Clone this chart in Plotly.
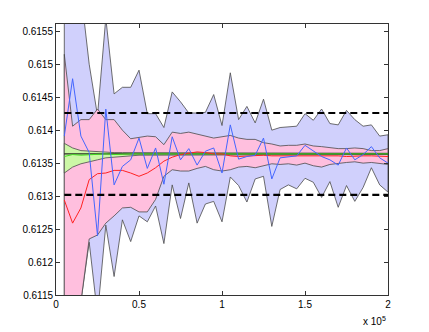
import plotly.graph_objects as go

# sample sizes (x axis)
n_samples = list(range(5000, 200001, 5000))

# outer (blue) band
blue_upper = [0.6165, 0.6170, 0.6161, 0.6150, 0.61422, 0.6157, 0.61455, 0.61465, 0.61465, 0.61491,
              0.61425, 0.61425, 0.61404, 0.61458, 0.61443, 0.61426, 0.61426, 0.61427, 0.61454, 0.61407,
              0.61487, 0.61416, 0.61436, 0.61411, 0.61447, 0.61400, 0.61404, 0.61405, 0.61406, 0.61425,
              0.61415, 0.61432, 0.61410, 0.61408, 0.61430, 0.61416, 0.61406, 0.61408, 0.61391, 0.61393]
blue_lower = [0.6095, 0.6100, 0.6114, 0.61230, 0.6112, 0.61256, 0.61178, 0.61264, 0.61231, 0.61270,
              0.61261, 0.61285, 0.61228, 0.61317, 0.61266, 0.61320, 0.61259, 0.61288, 0.61292, 0.61261,
              0.61329, 0.61316, 0.61291, 0.61326, 0.61330, 0.61254, 0.61310, 0.61317, 0.61311, 0.61327,
              0.61321, 0.61298, 0.61322, 0.61283, 0.61316, 0.61292, 0.61313, 0.61343, 0.61317, 0.61306]

# middle (pink) band
pink_upper = [0.61515, 0.61406, 0.61416, 0.61416, 0.61432, 0.61416, 0.61416, 0.61400, 0.61387, 0.61389,
              0.61391, 0.61390, 0.61378, 0.61397, 0.61395, 0.61397, 0.61394, 0.61391, 0.61388, 0.61390,
              0.61392, 0.61388, 0.61386, 0.61386, 0.61381, 0.61379, 0.61376, 0.61377, 0.61377, 0.61379,
              0.61376, 0.61375, 0.61373, 0.61372, 0.61372, 0.61373, 0.61372, 0.61369, 0.61369, 0.61372]
pink_lower = [0.6105, 0.6108, 0.6114, 0.61235, 0.61241, 0.61259, 0.61270, 0.61282, 0.61283, 0.61276,
              0.61276, 0.61295, 0.61330, 0.61340, 0.61338, 0.61338, 0.61342, 0.61345, 0.61340, 0.61338,
              0.61340, 0.61344, 0.61345, 0.61343, 0.61346, 0.61349, 0.61348, 0.61349, 0.61347, 0.61350,
              0.61346, 0.61344, 0.61348, 0.61349, 0.61351, 0.61352, 0.61350, 0.61351, 0.61349, 0.61348]

# inner (green) band
green_upper = [0.61380, 0.61373, 0.61369, 0.61368, 0.61367, 0.61366, 0.61366, 0.61366, 0.61366, 0.61366,
               0.61366, 0.61366, 0.61366, 0.61366, 0.61366, 0.61366, 0.61366, 0.61366, 0.61366, 0.61366,
               0.61366, 0.61366, 0.61366, 0.61366, 0.61366, 0.61366, 0.61366, 0.61366, 0.61366, 0.61366,
               0.61366, 0.61366, 0.61365, 0.61365, 0.61365, 0.61365, 0.61365, 0.61365, 0.61365, 0.61365]
green_lower = [0.61335, 0.61344, 0.61349, 0.61352, 0.61355, 0.61358, 0.61359, 0.61360, 0.61361, 0.61362,
               0.61362, 0.61362, 0.61362, 0.61362, 0.61362, 0.61362, 0.61362, 0.61362, 0.61362, 0.61362,
               0.61362, 0.61362, 0.61362, 0.61362, 0.61362, 0.61362, 0.61363, 0.61363, 0.61363, 0.61363,
               0.61363, 0.61363, 0.61363, 0.61363, 0.61363, 0.61363, 0.61363, 0.61363, 0.61363, 0.61363]

# estimate curves
red_line = [0.61294, 0.61259, 0.61282, 0.61325, 0.61334, 0.61335, 0.61339, 0.61339, 0.61335, 0.61330,
            0.61335, 0.61343, 0.61353, 0.61359, 0.61363, 0.61365, 0.61367, 0.61366, 0.61364, 0.61364,
            0.61361, 0.61360, 0.61361, 0.61362, 0.61362, 0.61361, 0.61361, 0.61362, 0.61362, 0.61361,
            0.61362, 0.61362, 0.61361, 0.61361, 0.61360, 0.61361, 0.61361, 0.61361, 0.61360, 0.61360]
blue_line = [0.61391, 0.61478, 0.61391, 0.61366, 0.61240, 0.61432, 0.61317, 0.61345, 0.61355, 0.61388,
             0.61342, 0.61373, 0.61318, 0.61390, 0.61355, 0.61372, 0.61347, 0.61368, 0.61373, 0.61335,
             0.61408, 0.61356, 0.61360, 0.61362, 0.61388, 0.61326, 0.61358, 0.61360, 0.61361, 0.61377,
             0.61368, 0.61360, 0.61355, 0.61347, 0.61373, 0.61355, 0.61363, 0.61375, 0.61358, 0.61350]
green_line = [0.61360, 0.61363, 0.61362, 0.61363, 0.61363, 0.61364, 0.61363, 0.61364, 0.61364, 0.61364,
              0.61364, 0.61364, 0.61364, 0.61364, 0.61364, 0.61364, 0.61364, 0.61364, 0.61364, 0.61364,
              0.61364, 0.61364, 0.61364, 0.61364, 0.61364, 0.61364, 0.61364, 0.61364, 0.61364, 0.61364,
              0.61364, 0.61364, 0.61364, 0.61364, 0.61364, 0.61364, 0.61364, 0.61364, 0.61364, 0.61364]

true_value = 0.61364
bound_upper = 0.61426
bound_lower = 0.61302

y_ticks = [0.6115, 0.612, 0.6125, 0.613, 0.6135, 0.614, 0.6145, 0.615, 0.6155]
x_ticks = [0, 50000, 100000, 150000, 200000]
x_ticktext = ['0', '0.5', '1', '1.5', '2']

edge = '#4a4a4a'


def band(upper, lower, color):
    return go.Scatter(
        x=n_samples + n_samples[::-1] + [n_samples[0]],
        y=upper + lower[::-1] + [upper[0]],
        mode='lines', fill='toself', fillcolor=color,
        line=dict(color=edge, width=0.8), hoverinfo='skip'
    )


fig = go.Figure()
fig.add_trace(band(blue_upper, blue_lower, '#d0d0fc'))
fig.add_trace(band(pink_upper, pink_lower, '#ffbfde'))
fig.add_trace(band(green_upper, green_lower, '#ccf7a6'))

fig.add_trace(go.Scatter(x=n_samples, y=[true_value] * len(n_samples), mode='lines',
                         line=dict(color='black', width=1)))
fig.add_trace(go.Scatter(x=n_samples, y=green_line, mode='lines',
                         line=dict(color='#44dd22', width=1)))
fig.add_trace(go.Scatter(x=n_samples, y=red_line, mode='lines',
                         line=dict(color='#ff2222', width=1)))
fig.add_trace(go.Scatter(x=n_samples, y=blue_line, mode='lines',
                         line=dict(color='#4466ff', width=1)))
for b in (bound_upper, bound_lower):
    fig.add_trace(go.Scatter(x=n_samples, y=[b] * len(n_samples), mode='lines',
                             line=dict(color='black', width=2.2, dash='7px,4px')))

axis_common = dict(showline=True, linecolor='#333333', linewidth=1, mirror='ticks',
                   ticks='inside', ticklen=4, tickcolor='#333333', showgrid=False,
                   zeroline=False, tickfont=dict(size=10, color='black'))

# the page body adds an 8px offset, so margins are shifted to keep the plot area in place
fig.update_layout(
    width=429, height=332,
    margin=dict(l=48, r=49, t=16, b=45),
    paper_bgcolor='white', plot_bgcolor='white',
    showlegend=False,
    font=dict(family='Liberation Sans, Arial, sans-serif', size=10, color='black'),
    xaxis=dict(range=[0, 200000], tickvals=x_ticks, ticktext=x_ticktext, **axis_common),
    yaxis=dict(range=[0.6115, 0.61561], tickvals=y_ticks,
               ticktext=[f'{v:g}' for v in y_ticks], **axis_common),
    annotations=[dict(text='x 10<sup>5</sup>', xref='paper', yref='paper', x=1.0, y=-0.096,
                      xanchor='right', yanchor='middle', showarrow=False,
                      font=dict(size=10, color='black'))]
)

fig.write_html('out.html')
